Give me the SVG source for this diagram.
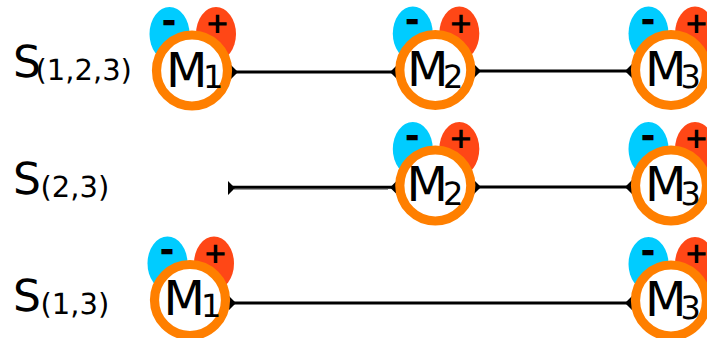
<svg xmlns="http://www.w3.org/2000/svg" width="707" height="338" viewBox="0 0 707 338">
<style>
text{font-family:"DejaVu Sans",sans-serif;fill:#000;text-rendering:geometricPrecision}
.neg{fill:#00ccff}.pos{fill:#ff4716}
.ring{fill:#fff;stroke:#ff7f00;stroke-width:9.200}
.m{font-size:48px}.sub{font-size:32px}
.minus{font-size:36px;font-weight:bold;text-anchor:middle}
.plus{font-size:29px;font-weight:bold;text-anchor:middle}
.s{font-size:44px}.idx{font-size:29px}
.wire{stroke:#000;stroke-width:3;fill:none}
.shadow{stroke:#999;stroke-width:1;fill:none}
.tip{fill:#000}
</style>
<defs>
<g id="m-base">
<ellipse class="neg" cx="-22.500" cy="-36.500" rx="20" ry="27"/>
<ellipse class="pos" cx="24" cy="-36.500" rx="20" ry="27"/>
<text class="minus" x="-23" y="-38">-</text>
<text class="plus" x="25.500" y="-37.500">+</text>
<circle class="ring" r="35.500"/>
</g>
</defs>
<g id="labels">
<text class="s" x="13" y="77">S</text><text class="idx" x="35.500" y="80">(1,2,3)</text>
<text class="s" x="13" y="193.500">S</text><text class="idx" x="40.500" y="196.500">(2,3)</text>
<text class="s" x="13" y="310.500">S</text><text class="idx" x="40.500" y="313.500">(1,3)</text>
</g>
<g id="connectors">
<path class="wire" d="M232 72H392M475 71H632M232 187.200H392M475 187H632M230 303H632"/>
<path class="shadow" d="M234 189.500H388"/>
<path class="tip" d="M231 65L238 72L231 79ZM397 65L390 72L397 79ZM474 64L481 71L474 78ZM632 64L625 71L632 78ZM228 181L235 188L228 195ZM397 180.500L390 187.500L397 194.500ZM474 180L481 187L474 194ZM632 180L625 187L632 194ZM229 296L236 303L229 310ZM632 296L625 303L632 310Z"/>
</g>
<g id="row1-M1"><use href="#m-base" x="192" y="70.500"/><text class="m" x="166" y="86.500">M</text><text class="sub" x="203" y="88.300">1</text></g>
<g id="row1-M2"><use href="#m-base" x="435.300" y="70"/><text class="m" x="407" y="85.500">M</text><text class="sub" x="443" y="88.300">2</text></g>
<g id="row1-M3"><use href="#m-base" x="671" y="70"/><text class="m" x="645" y="85.500">M</text><text class="sub" x="680.500" y="88.300">3</text></g>
<g id="row2-M2"><use href="#m-base" x="435.300" y="185.500"/><text class="m" x="406.500" y="201">M</text><text class="sub" x="443" y="204.500">2</text></g>
<g id="row2-M3"><use href="#m-base" x="671" y="185.500"/><text class="m" x="645" y="201">M</text><text class="sub" x="680.500" y="204.500">3</text></g>
<g id="row3-M1"><use href="#m-base" x="190" y="300"/><text class="m" x="163.500" y="315">M</text><text class="sub" x="201" y="317">1</text></g>
<g id="row3-M3"><use href="#m-base" x="671" y="300.500"/><text class="m" x="645" y="316">M</text><text class="sub" x="680.500" y="319.300">3</text></g>
</svg>
